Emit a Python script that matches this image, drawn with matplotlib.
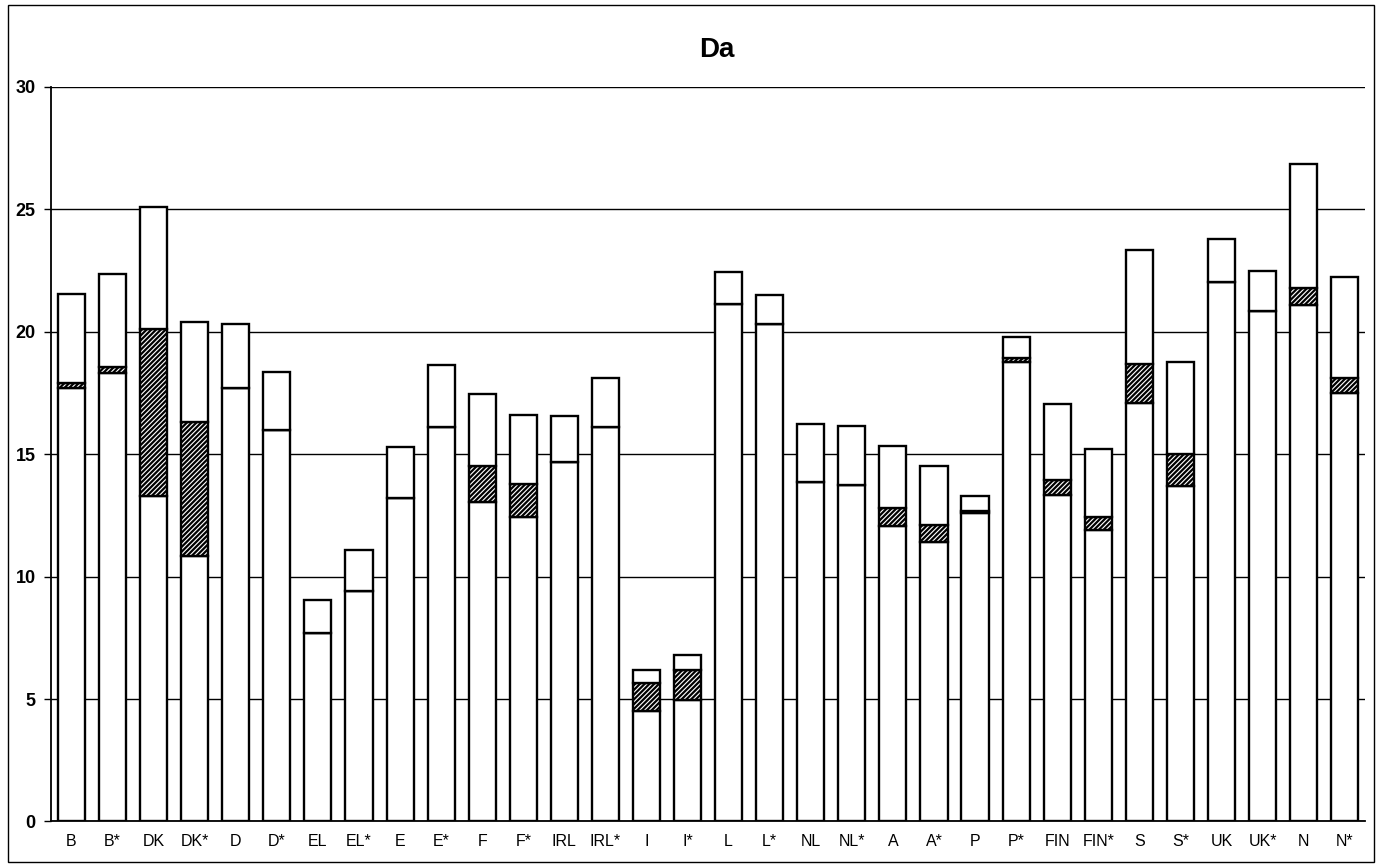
import numpy as np
import matplotlib
matplotlib.use("Agg")
import matplotlib.pyplot as plt
from matplotlib.patches import Rectangle

# categories (country codes, * = second variant)
categories = ["B", "B*", "DK", "DK*", "D", "D*", "EL", "EL*", "E", "E*",
              "F", "F*", "IRL", "IRL*", "I", "I*", "L", "L*", "NL", "NL*",
              "A", "A*", "P", "P*", "FIN", "FIN*", "S", "S*", "UK", "UK*",
              "N", "N*"]

# lower (plain) segment
base = [17.7, 18.3, 13.3, 10.85, 17.7, 16.0, 7.7, 9.4, 13.2, 16.1,
        13.05, 12.45, 14.7, 16.1, 4.5, 4.95, 21.15, 20.3, 13.85, 13.75,
        12.05, 11.4, 12.6, 18.75, 13.35, 11.9, 17.1, 13.7, 22.05, 20.85,
        21.1, 17.5]

# hatched middle segment
hatched = [0.2, 0.25, 6.8, 5.45, 0.0, 0.0, 0.0, 0.0, 0.0, 0.0,
           1.45, 1.35, 0.0, 0.0, 1.15, 1.25, 0.0, 0.0, 0.0, 0.0,
           0.75, 0.7, 0.08, 0.2, 0.6, 0.55, 1.6, 1.3, 0.0, 0.0,
           0.7, 0.6]

# total bar height
total = [21.55, 22.35, 25.1, 20.4, 20.3, 18.35, 9.05, 11.1, 15.3, 18.65,
         17.45, 16.6, 16.55, 18.1, 6.2, 6.8, 22.45, 21.5, 16.25, 16.15,
         15.35, 14.5, 13.3, 19.8, 17.05, 15.2, 23.35, 18.75, 23.8, 22.5,
         26.85, 22.25]

yticks = [0, 5, 10, 15, 20, 25, 30]

base = np.array(base)
hatched = np.array(hatched)
upper = np.array(total) - base - hatched
x = np.arange(len(categories))

plt.rcParams["font.family"] = ["Liberation Sans", "DejaVu Sans"]
plt.rcParams["hatch.linewidth"] = 1.6

fig = plt.figure(figsize=(13.78, 8.67), dpi=100)
ax = fig.add_axes([0.037, 0.0525, 0.9537, 0.8472])

bw = 0.66
ax.bar(x, base, width=bw, color="white", edgecolor="black", linewidth=1.7, zorder=3)
ax.bar(x, hatched, bottom=base, width=bw, color="white", edgecolor="black",
       hatch="///////", linewidth=1.7, zorder=3)
ax.bar(x, upper, bottom=base + hatched, width=bw, color="white",
       edgecolor="black", linewidth=1.7, zorder=3)

ax.set_xlim(-0.5, len(categories) - 0.5)
ax.set_ylim(0, 30)
ax.set_yticks(yticks)
ax.set_yticklabels([str(t) for t in yticks], fontsize=13, fontweight="bold")
ax.set_xticks(x)
ax.set_xticklabels(categories, fontsize=11.5)
ax.tick_params(axis="x", length=0, pad=9)
ax.tick_params(axis="y", length=5, width=1, direction="out", pad=6)

ax.yaxis.grid(True, color="black", linewidth=1.0)
ax.set_axisbelow(True)
for side in ("top", "right"):
    ax.spines[side].set_visible(False)
for side in ("left", "bottom"):
    ax.spines[side].set_linewidth(1.3)

fig.text(0.52, 0.942, "Da", ha="center", va="center", fontsize=20,
         fontweight="bold")

# outer frame round the whole chart
fig.add_artist(Rectangle((0.0058, 0.0058), 0.991, 0.988, transform=fig.transFigure,
                         fill=False, edgecolor="black", linewidth=1.0))

fig.savefig("out.png", dpi=100)
plt.close(fig)
